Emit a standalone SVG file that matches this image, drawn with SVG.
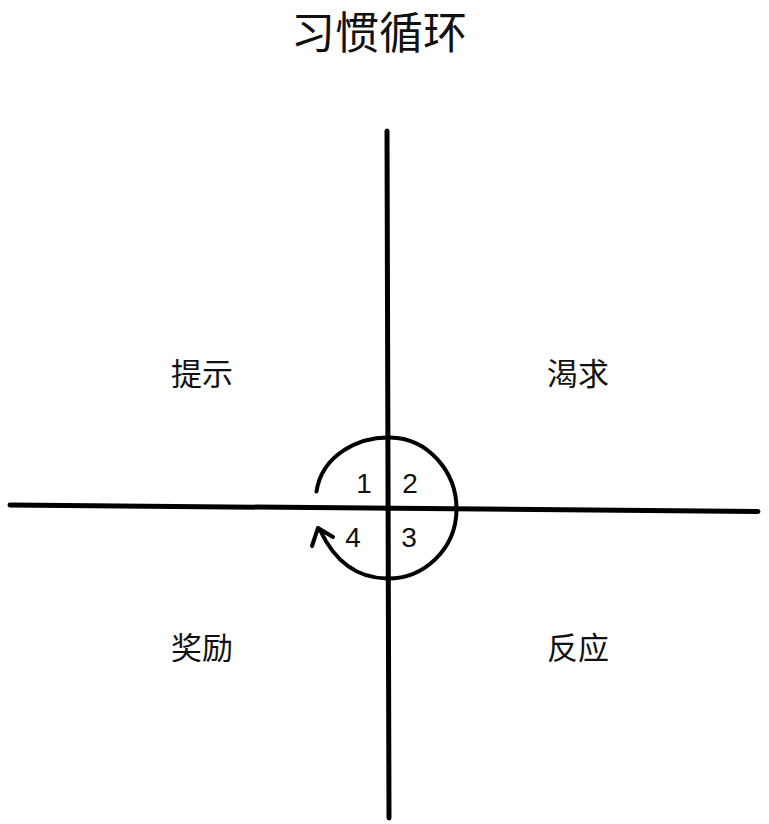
<svg xmlns="http://www.w3.org/2000/svg" width="769" height="824" viewBox="0 0 769 824">
<style>
.t{font-family:"Noto Sans CJK SC","Noto Sans",sans-serif;fill:#111;text-anchor:middle}
.q{font-size:31px}
.n{font-family:"Liberation Sans","Noto Sans",sans-serif;font-size:28px;fill:#111;text-anchor:middle}
.ax{stroke:#000;stroke-width:5;stroke-linecap:round;fill:none}
.cy{stroke:#000;stroke-width:4;stroke-linecap:round;stroke-linejoin:round;fill:none}
</style>
<rect width="769" height="824" fill="#fff"/>
<text id="title" class="t" x="379" y="49" font-size="44">习惯循环</text>
<g id="connectors">
<path class="ax" d="M387 131 L389 818"/>
<path class="ax" d="M10 505 L758 511.5"/>
<path class="cy" d="M316.5 491.5 C322 455 358 437 390 437.5 C428 438 457 472 456.5 510 C456 549 424 579 387 578.5 C356 578 334 560 320 530"/>
<path class="cy" d="M312 546 L318 528 L333 537"/>
</g>
<g id="n1"><text class="n" x="364" y="493">1</text></g>
<g id="n2"><text class="n" x="410" y="493">2</text></g>
<g id="n3"><text class="n" x="409" y="547">3</text></g>
<g id="n4"><text class="n" x="353" y="547">4</text></g>
<g id="cue"><text class="t q" x="202" y="385">提示</text></g>
<g id="craving"><text class="t q" x="578" y="385">渴求</text></g>
<g id="reward"><text class="t q" x="202" y="659">奖励</text></g>
<g id="response"><text class="t q" x="578" y="659">反应</text></g>
</svg>
